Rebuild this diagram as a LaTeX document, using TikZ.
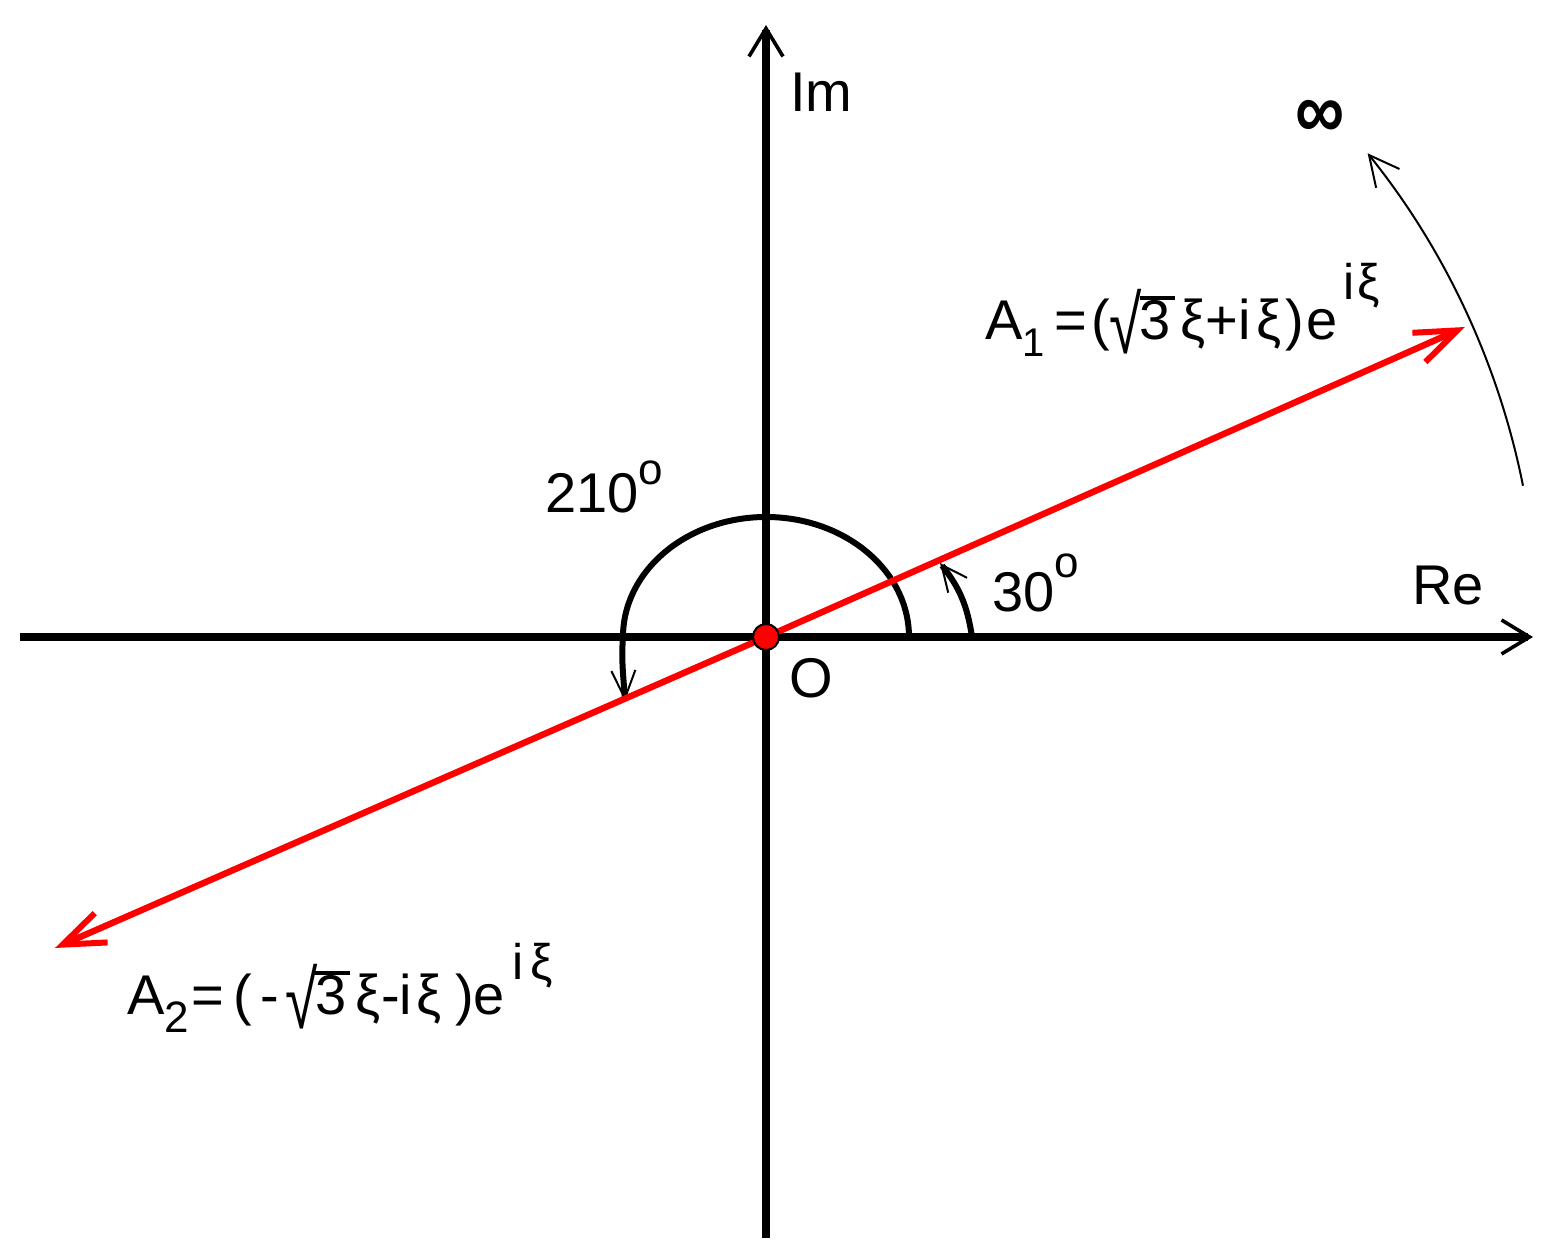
\documentclass[tikz,border=0pt]{standalone}
\usepackage{fontspec}
\usepackage{graphicx}
\setmainfont{Liberation Sans}
\usetikzlibrary{arrows.meta}
\newcommand\sqrtthree{\raisebox{-7pt}{\scalebox{1.05}[1.45]{\char"221A}}\kern-1pt\makebox[0pt][l]{\rule[20pt]{0.62em}{2pt}}3}
\newcommand\supfont{\fontsize{25}{25}\selectfont}
\begin{document}
\begin{tikzpicture}[x=0.5pt,y=0.5pt,
  axis/.style={line width=3.6pt,-{Straight Barb[length=14pt,width=17pt,line width=1.8pt]}},
  vec/.style={red,line width=3.2pt,-{Straight Barb[length=21pt,width=16pt,line width=3pt]}},
  angarc/.style={line width=3pt,-{Straight Barb[length=13pt,width=12pt,line width=1pt]}},
  thinarc/.style={line width=1pt,-{Straight Barb[length=15pt,width=15pt,line width=1pt]}},
  lbl/.style={inner sep=0pt,anchor=base west,font=\fontsize{28}{34}\selectfont}]
\useasboundingbox (-766,-619) rectangle (793,637);
\coordinate (O) at (0,0);
\coordinate (Xl) at (-746,0);
\coordinate (Xr) at (767,0);
\coordinate (Yb) at (0,-601);
\coordinate (Yt) at (0,612);
\coordinate (E1) at (699,310);
\coordinate (E2) at (-711,-311);
\coordinate (S210) at (143,0);
\coordinate (T210) at (-141,-64);
\coordinate (S30) at (206,0);
\coordinate (T30) at (174,74);
\coordinate (Sinf) at (11.3:772);
% axes
\draw[axis] (Xl) -- (Xr);
\draw[axis] (Yb) -- (Yt);
% angle arcs
\draw[angarc,-{Straight Barb[length=14pt,width=12pt,line width=1pt]}] (S210) arc[start angle=0,end angle=180,x radius=143,y radius=120]
  .. controls (-145,-25) and (-142,-45) .. (T210);
\draw[angarc] (S30) to[bend right=15] (T30);
\draw[thinarc] (Sinf) arc[start angle=11.3,end angle=38.8,radius=772];
% vectors
\draw[vec] (O) -- (E1);
\draw[vec] (O) -- (E2);
\node[circle,fill=red,draw=black,line width=1pt,minimum size=13pt,inner sep=0pt] (Odot) at (O) {};
% labels
\node[lbl] (im) at (24,525) {Im};
\node[lbl] (re) at (646,32) {Re};
\node[lbl] (olab) at (23,-61) {O};
\node[inner sep=0pt,font=\fontsize{30}{30}\selectfont\bfseries] (inf) at (554,518) {\scalebox{1.15}[1.35]{∞}};
\node[lbl] (a210) at (-221,124) {210\raisebox{14pt}{\fontsize{22}{22}\selectfont o}};
\node[lbl] (a30) at (226,25) {30\raisebox{17pt}{\fontsize{22}{22}\selectfont o}};
\node[lbl] (a1) at (219,297) {A\raisebox{-8.5pt}{\fontsize{20}{20}\selectfont 1}\,=\kern2pt(\sqrtthree\,ξ+i\kern3ptξ\kern2pt)\kern1pte\kern3pt\raisebox{20pt}{\supfont i\kern1.5ptξ}};
\node[lbl] (a2) at (-639,-378) {A\raisebox{-9pt}{\fontsize{22}{22}\selectfont 2}\kern1pt=\kern5pt(\kern4pt-\kern3pt\sqrtthree\,ξ-i\kern2ptξ\kern7pt)e\kern4pt\raisebox{17.5pt}{\supfont i\kern3ptξ}};
\end{tikzpicture}
\end{document}
